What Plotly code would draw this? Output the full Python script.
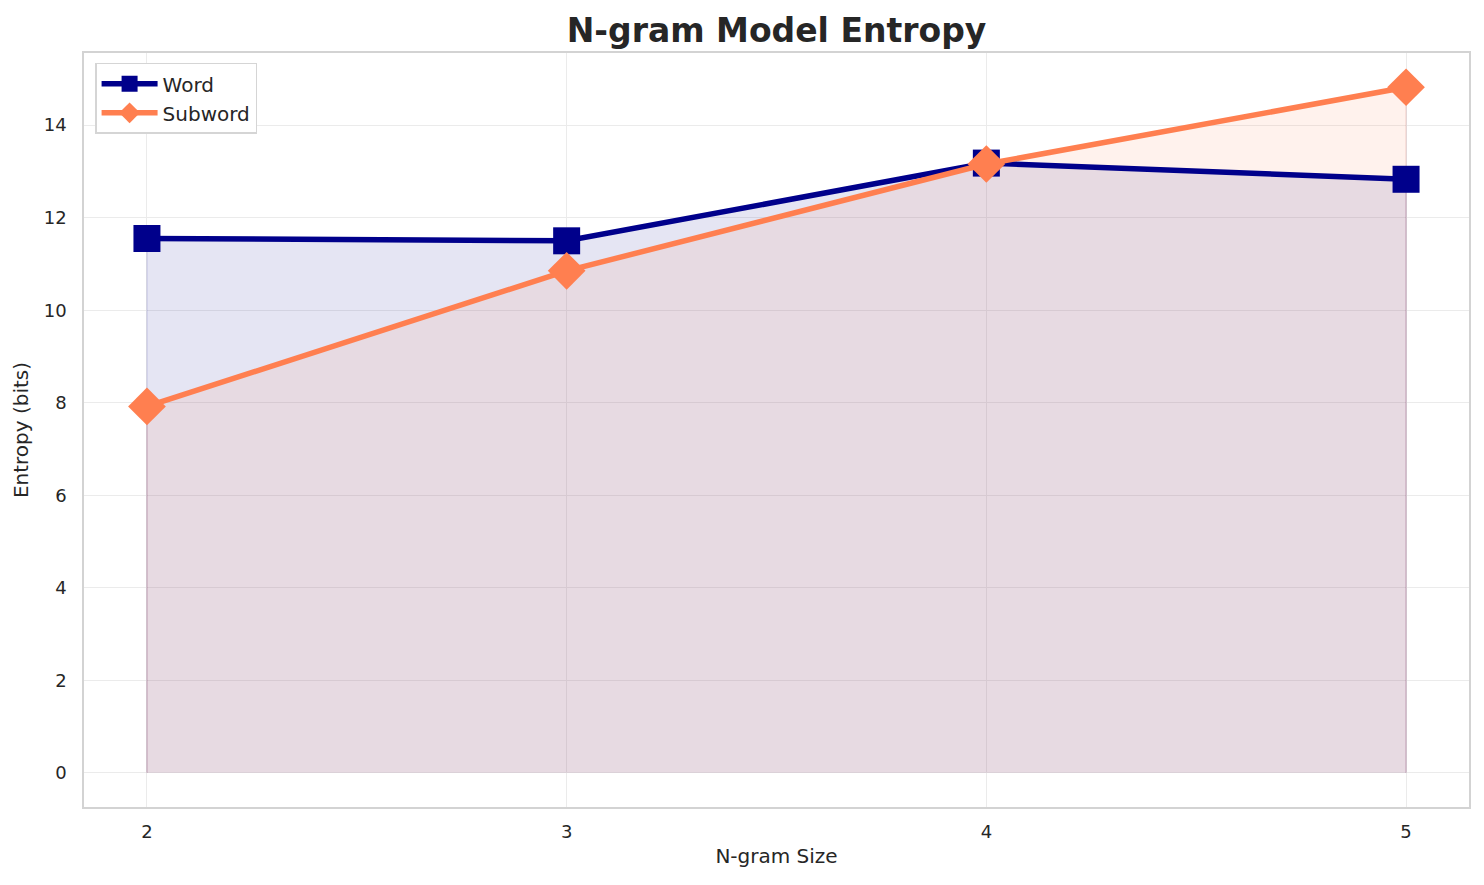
import plotly.graph_objects as go

# n-gram sizes and entropy (bits)
ngram_sizes = [2, 3, 4, 5]
word_entropy = [11.55, 11.50, 13.18, 12.83]
subword_entropy = [7.92, 10.85, 13.16, 14.82]

WORD_COLOR = "#00008B"
SUBWORD_COLOR = "#FF7F50"
FONT = "DejaVu Sans"
TEXT = "#262626"

fig = go.Figure()

# shaded areas under each curve (closed down to zero like fill_between)
for vals, fill, edge in [
    (word_entropy, "rgba(0,0,139,0.1)", "rgba(0,0,139,0.12)"),
    (subword_entropy, "rgba(255,127,80,0.1)", "rgba(180,60,60,0.15)"),
]:
    fig.add_trace(go.Scatter(
        x=[ngram_sizes[0]] + ngram_sizes + [ngram_sizes[-1]],
        y=[0] + vals + [0],
        fill="toself", fillcolor=fill,
        line=dict(color=edge, width=1.5),
        mode="lines", hoverinfo="skip", showlegend=False,
    ))

fig.add_trace(go.Scatter(
    x=ngram_sizes, y=word_entropy, name="Word",
    mode="lines+markers",
    line=dict(color=WORD_COLOR, width=5.5),
    marker=dict(symbol="square", size=27, color=WORD_COLOR),
))
fig.add_trace(go.Scatter(
    x=ngram_sizes, y=subword_entropy, name="Subword",
    mode="lines+markers",
    line=dict(color=SUBWORD_COLOR, width=5.5),
    marker=dict(symbol="diamond", size=29, color=SUBWORD_COLOR),
))

# page body adds an 8px offset, so the figure is shrunk to fit the window
fig.update_layout(
    width=1476, height=877,
    margin=dict(l=76, r=15, t=45, b=78),
    paper_bgcolor="white", plot_bgcolor="white",
    font=dict(family=FONT, color=TEXT, size=18),
    title=dict(text="<b>N-gram Model Entropy</b>", x=0.5, xref="paper",
               xanchor="center", y=0.974, yanchor="middle",
               font=dict(size=33, color=TEXT)),
    legend=dict(x=0.008, y=0.987, xanchor="left", yanchor="top",
                bgcolor="white", bordercolor="#D5D5D5", borderwidth=1.5,
                font=dict(size=20), itemwidth=56),
)
fig.update_xaxes(
    range=[1.85, 5.15], tickvals=ngram_sizes,
    title=dict(text="N-gram Size", font=dict(size=20), standoff=8),
    showgrid=True, gridcolor="#EBEBEB", gridwidth=1.2, zeroline=False,
    showline=True, linecolor="#D3D3D3", linewidth=1.5, mirror=True,
    tickfont=dict(size=18), ticks="", ticklabelstandoff=8,
)
fig.update_yaxes(
    range=[-0.74, 15.56], tickvals=list(range(0, 15, 2)),
    title=dict(text="Entropy (bits)", font=dict(size=20), standoff=10),
    showgrid=True, gridcolor="#EBEBEB", gridwidth=1.2, zeroline=False,
    showline=True, linecolor="#D3D3D3", linewidth=1.5, mirror=True,
    tickfont=dict(size=18), ticks="", ticklabelstandoff=12,
)

fig.write_html("out.html")
